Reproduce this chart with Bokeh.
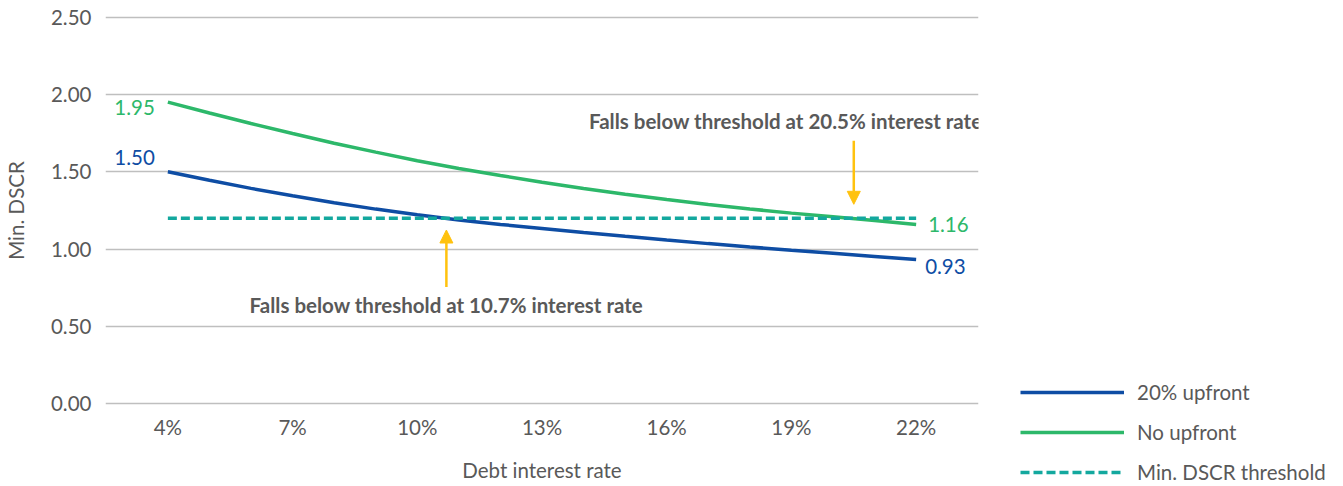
from bokeh.plotting import figure
from bokeh.models import (Range1d, FixedTicker, Legend, LegendItem, Label,
                          Arrow, NormalHead)
from bokeh.embed import file_html
from bokeh.resources import INLINE

# Debt interest rate (%) and minimum DSCR per financing case
rates = [4, 5, 6, 7, 8, 9, 10, 11, 12, 13, 14, 15, 16, 17, 18, 19, 20, 21, 22]
dscr_upfront = [1.500, 1.445, 1.393, 1.345, 1.300, 1.259, 1.222, 1.189, 1.160,
                1.134, 1.108, 1.083, 1.059, 1.036, 1.014, 0.993, 0.973, 0.953,
                0.933]
dscr_no_upfront = [1.950, 1.880, 1.812, 1.748, 1.685, 1.627, 1.572, 1.522,
                   1.476, 1.432, 1.392, 1.355, 1.321, 1.289, 1.260, 1.233,
                   1.209, 1.185, 1.160]
threshold = 1.20
threshold_rates = [4, 22]

# Rates where each case drops below the threshold
cross_upfront = 10.7
cross_no_upfront = 20.5

x_ticks = [4, 7, 10, 13, 16, 19, 22]
x_tick_labels = ["4%", "7%", "10%", "13%", "16%", "19%", "22%"]
y_ticks = [0.0, 0.5, 1.0, 1.5, 2.0, 2.5]
y_tick_labels = ["0.00", "0.50", "1.00", "1.50", "2.00", "2.50"]

series_names = ["20% upfront", "No upfront", "Min. DSCR threshold"]

BLUE = "#0E4DA4"
GREEN = "#2DB86A"
TEAL = "#13A89E"
GOLD = "#FFC20E"
GREY_TXT = "#595959"
GRID = "#BFBFBF"
FONT = "Lato"
FS = "20.5px"
FS_BOLD = "20.5px"

p = figure(width=1343, height=486, output_backend="svg", toolbar_location=None,
           x_range=Range1d(2.5, 23.5), y_range=Range1d(-0.01, 2.51),
           min_border_left=105, min_border_right=365, min_border_top=15,
           min_border_bottom=81, outline_line_color=None)
p.frame_width = 873
p.frame_height = 390

# axes
p.xaxis.ticker = FixedTicker(ticks=x_ticks)
p.xaxis.major_label_overrides = dict(zip(x_ticks, x_tick_labels))
p.yaxis.ticker = FixedTicker(ticks=y_ticks)
p.yaxis.major_label_overrides = dict(zip(y_ticks, y_tick_labels))
for ax in (p.xaxis, p.yaxis):
    ax.axis_line_color = None
    ax.major_tick_line_color = None
    ax.minor_tick_line_color = None
    ax.major_label_text_font = FONT
    ax.major_label_text_font_size = FS
    ax.major_label_text_color = GREY_TXT
    ax.axis_label_text_font = FONT
    ax.axis_label_text_font_size = FS
    ax.axis_label_text_color = GREY_TXT
    ax.axis_label_text_font_style = "normal"
p.xaxis.axis_label = "Debt interest rate"
p.yaxis.axis_label = "Min. DSCR"
p.xaxis.major_label_standoff = 3
p.xaxis.axis_label_standoff = 16
p.yaxis.major_label_standoff = 8
p.yaxis.axis_label_standoff = 20

p.xgrid.grid_line_color = None
p.ygrid.grid_line_color = GRID
p.ygrid.grid_line_width = 1.5

r_up = p.line(rates, dscr_upfront, line_color=BLUE, line_width=3.5)
r_no = p.line(rates, dscr_no_upfront, line_color=GREEN, line_width=3.5)
r_th = p.line(threshold_rates, [threshold, threshold], line_color=TEAL,
              line_width=3.5, line_dash="9 4")


def value_label(x, y, text, color, align, dx, dy):
    p.add_layout(Label(x=x, y=y, text=text, text_color=color, text_font=FONT,
                       text_font_size=FS, text_align=align,
                       text_baseline="middle", x_offset=dx, y_offset=dy))


# start / end values of each curve
value_label(rates[0], dscr_no_upfront[0], f"{dscr_no_upfront[0]:.2f}", GREEN, "right", -13, -5)
value_label(rates[0], dscr_upfront[0], f"{dscr_upfront[0]:.2f}", BLUE, "right", -13, 14)
value_label(rates[-1], dscr_no_upfront[-1], f"{dscr_no_upfront[-1]:.2f}", GREEN, "left", 12, 0)
value_label(rates[-1], dscr_upfront[-1], f"{dscr_upfront[-1]:.2f}", BLUE, "left", 9, -7)

# threshold-crossing callouts
head = dict(size=13, fill_color=GOLD, line_color=GOLD, line_width=1)
p.add_layout(Arrow(end=NormalHead(**head), x_start=cross_no_upfront, y_start=1.70,
                   x_end=cross_no_upfront, y_end=1.29, line_color=GOLD, line_width=2.5))
p.add_layout(Arrow(end=NormalHead(**head), x_start=cross_upfront, y_start=0.756,
                   x_end=cross_upfront, y_end=1.124, line_color=GOLD, line_width=2.5))

p.add_layout(Label(x=23.5, y=1.828, x_offset=4,
                   text=f"Falls below threshold at {cross_no_upfront}% interest rate",
                   text_font=FONT, text_font_size=FS_BOLD, text_font_style="bold",
                   text_color=GREY_TXT, text_align="right", text_baseline="middle"))
p.add_layout(Label(x=cross_upfront, y=0.64,
                   text=f"Falls below threshold at {cross_upfront}% interest rate",
                   text_font=FONT, text_font_size=FS_BOLD, text_font_style="bold",
                   text_color=GREY_TXT, text_align="center", text_baseline="middle"))

# legend in the right-hand margin, extending down beside the x axis
legend = Legend(items=[LegendItem(label=series_names[0], renderers=[r_up]),
                       LegendItem(label=series_names[1], renderers=[r_no]),
                       LegendItem(label=series_names[2], renderers=[r_th])],
                location=(42, -79), orientation="vertical",
                glyph_width=104, glyph_height=20, label_height=20,
                label_standoff=13, spacing=16, padding=0, margin=0,
                border_line_color=None, background_fill_alpha=0,
                label_text_font=FONT, label_text_font_size=FS,
                label_text_color=GREY_TXT)
p.add_layout(legend, "right")

open("out.html", "w").write(file_html(p, INLINE))
